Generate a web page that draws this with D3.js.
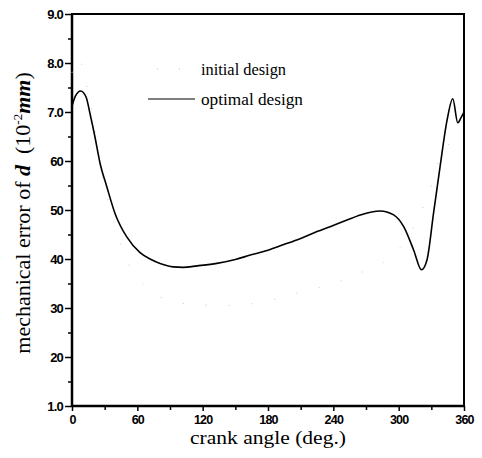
<!DOCTYPE html>
<html>
<head>
<meta charset="utf-8">
<script src="https://cdn.jsdelivr.net/npm/d3@7"></script>
<style>
  body { margin: 0; background: #fff; }
  svg { display: block; }
</style>
</head>
<body>
<div id="canvas"></div>
<script>
// crank angle (deg.) and mechanical error of d
const optAngle = [0, 3, 8, 13, 16.5, 21, 25.7, 31.9, 39.5, 50.3, 62.5, 71.7, 80.9, 93, 102, 115, 133, 150, 163.7, 180, 194, 210, 225, 237, 252, 264.8, 283, 295.4, 304.6, 313.8, 320.9, 326, 332, 338, 344.5, 349.7, 354.3, 357.4, 360];
const optValue = [71.2, 73.2, 74.3, 73.0, 69.7, 65, 59.6, 54.8, 49.3, 44.5, 41.3, 40.0, 39.1, 38.4, 38.3, 38.6, 39.1, 39.9, 40.8, 41.8, 42.9, 44.2, 45.6, 46.6, 47.9, 49.0, 49.8, 49.0, 46.6, 41.8, 37.8, 39.8, 49.3, 58.8, 68.4, 72.7, 67.8, 68.9, 70.0];
// the initial design is only a faint trail of dots
const iniAngle = [0, 6, 13, 30, 50, 70, 100, 140, 170, 206, 240, 263, 290, 310, 330, 340, 350, 360];
const iniValue = [78, 81, 76, 55, 40, 34, 31, 30.5, 31, 33, 35, 37, 40, 45, 55, 62, 64, 66];

const xTicks = [0, 60, 120, 180, 240, 300, 360];
const yTicks = [10, 20, 30, 40, 50, 60, 70, 80, 90];
const yTickLabels = ['1.0', '20', '30', '40', '50', '60', '7.0', '8.0', '9.0'];

const W = 482, H = 458;
const padL = 72, padR = 464, padT = 14, padB = 406;

const svg = d3.select('#canvas').append('svg')
    .attr('width', W)
    .attr('height', H);

const xScale = d3.scaleLinear().domain([0, 360]).range([padL, padR]);
const yScale = d3.scaleLinear().domain([10, 90]).range([padB, padT]);

const tickFont = 'Liberation Sans Narrow, Liberation Sans, Arial, sans-serif';
const serif = 'Liberation Serif, Times New Roman, serif';

// minor ticks
svg.append('g')
    .attr('transform', `translate(${padL},0)`)
    .call(d3.axisLeft(yScale).tickValues(d3.range(15, 90, 10)).tickSize(4).tickFormat(''))
    .call(g => g.select('.domain').remove())
    .selectAll('line').attr('stroke-width', 1.5);

svg.append('g')
    .attr('transform', `translate(0,${padB})`)
    .call(d3.axisBottom(xScale).tickValues(d3.range(30, 360, 60)).tickSize(4).tickFormat(''))
    .call(g => g.select('.domain').remove())
    .selectAll('line').attr('stroke-width', 1.5);

// major ticks and labels
const yAxis = svg.append('g')
    .attr('transform', `translate(${padL},0)`)
    .call(d3.axisLeft(yScale).tickValues(yTicks).tickSize(7).tickPadding(2)
      .tickFormat((d, i) => yTickLabels[i]));
yAxis.select('.domain').remove();
yAxis.selectAll('line').attr('stroke-width', 1.5);
yAxis.selectAll('text')
    .attr('font-family', tickFont)
    .attr('font-weight', 'bold')
    .attr('font-size', 13)
    .attr('letter-spacing', '-0.8px')
    .attr('fill', '#000');

const xAxis = svg.append('g')
    .attr('transform', `translate(0,${padB})`)
    .call(d3.axisBottom(xScale).tickValues(xTicks).tickSize(5).tickPadding(4));
xAxis.select('.domain').remove();
xAxis.selectAll('line').attr('stroke-width', 1.5);
xAxis.selectAll('text')
    .attr('font-family', tickFont)
    .attr('font-weight', 'bold')
    .attr('font-size', 12.5)
    .attr('letter-spacing', '-0.8px')
    .attr('fill', '#000');

// frame
svg.append('rect')
    .attr('x', padL).attr('y', padT)
    .attr('width', padR - padL).attr('height', padB - padT)
    .attr('fill', 'none')
    .attr('stroke', '#000')
    .attr('stroke-width', 2);
svg.append('line')
    .attr('x1', padL).attr('x2', padL).attr('y1', padT).attr('y2', padB)
    .attr('stroke', '#000').attr('stroke-width', 2.5);
svg.append('line')
    .attr('x1', padL).attr('x2', padR).attr('y1', padB).attr('y2', padB)
    .attr('stroke', '#000').attr('stroke-width', 2.5);

const line = d3.line()
    .x(d => xScale(d[0]))
    .y(d => yScale(d[1]))
    .curve(d3.curveMonotoneX);

svg.append('path')
    .datum(iniAngle.map((a, i) => [a, iniValue[i]]))
    .attr('d', line)
    .attr('fill', 'none')
    .attr('stroke', '#c8c8c8')
    .attr('stroke-width', 1)
    .attr('stroke-dasharray', '1 22');

svg.append('path')
    .datum(optAngle.map((a, i) => [a, optValue[i]]))
    .attr('d', line)
    .attr('fill', 'none')
    .attr('stroke', '#000')
    .attr('stroke-width', 1.6);

// legend
const legend = svg.append('g');
legend.append('line')
    .attr('x1', 157).attr('x2', 196).attr('y1', 69).attr('y2', 69)
    .attr('stroke', '#bbb').attr('stroke-width', 1).attr('stroke-dasharray', '1 21');
legend.append('line')
    .attr('x1', 148).attr('x2', 195).attr('y1', 99).attr('y2', 99)
    .attr('stroke', '#000').attr('stroke-width', 1.2);
legend.append('text')
    .attr('x', 201).attr('y', 75)
    .attr('textLength', 85)
    .text('initial design');
legend.append('text')
    .attr('x', 201).attr('y', 105)
    .attr('textLength', 102)
    .text('optimal design');
legend.selectAll('text')
    .attr('font-family', serif)
    .attr('font-size', 17)
    .attr('lengthAdjust', 'spacingAndGlyphs');

// axis titles
svg.append('text')
    .attr('x', (padL + padR) / 2)
    .attr('y', 444)
    .attr('text-anchor', 'middle')
    .attr('font-family', serif)
    .attr('font-size', 19)
    .attr('textLength', 156)
    .attr('lengthAdjust', 'spacingAndGlyphs')
    .text('crank angle (deg.)');

const yTitle = svg.append('text')
    .attr('transform', 'translate(30,213) rotate(-90)')
    .attr('text-anchor', 'middle')
    .attr('font-family', serif)
    .attr('font-size', 22);
yTitle.append('tspan').text('mechanical error of ');
yTitle.append('tspan').attr('font-style', 'italic').attr('font-weight', 'bold').text('d');
yTitle.append('tspan').text('\u00a0 (10');
yTitle.append('tspan').attr('font-size', 13).attr('dy', -8).text('-2');
yTitle.append('tspan').attr('dy', 8).attr('font-style', 'italic').attr('font-weight', 'bold').text('mm');
yTitle.append('tspan').text(')');
</script>
</body>
</html>
